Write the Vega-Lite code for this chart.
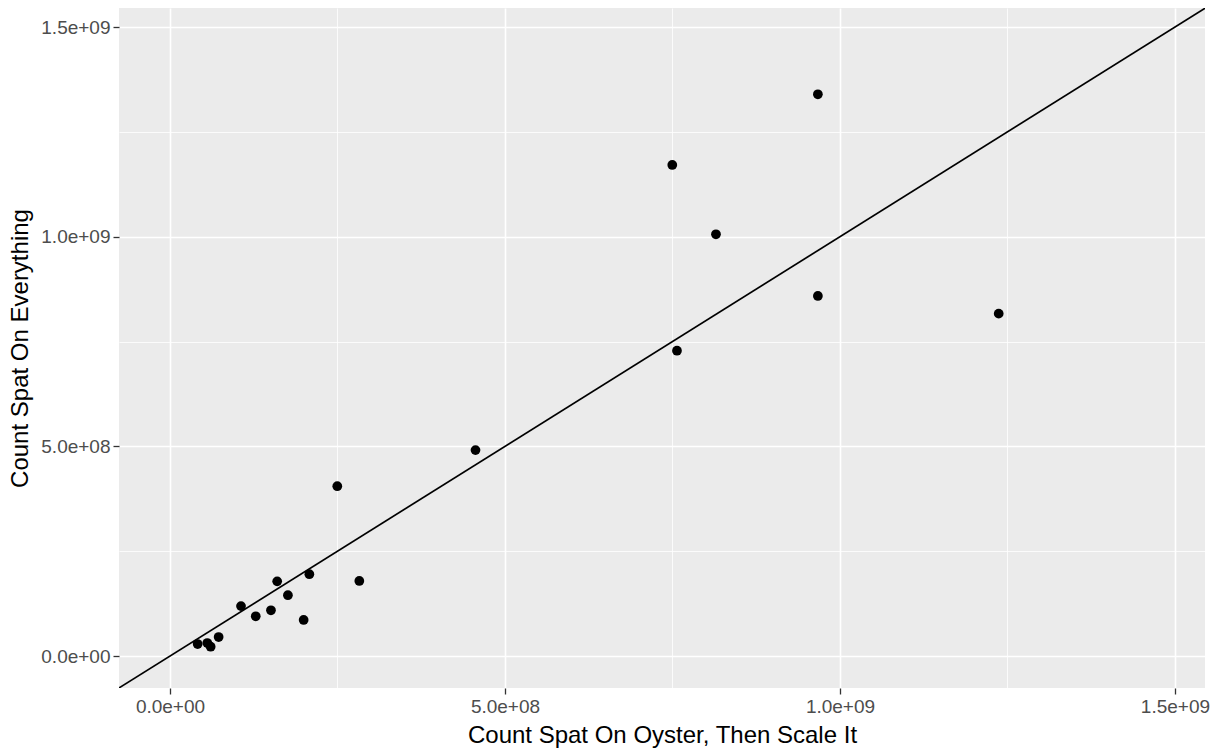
{
  "$schema": "https://vega.github.io/schema/vega-lite/v6.json",
  "autosize": "none",
  "width": 1086,
  "height": 680,
  "padding": {"left": 119, "top": 8, "right": 10, "bottom": 62},
  "background": "white",
  "config": {
    "view": {"fill": "#EBEBEB", "stroke": null},
    "font": "Liberation Sans",
    "axis": {
      "domain": false,
      "gridColor": "white",
      "gridWidth": {"condition": {"test": "datum.value % 500000000 === 0", "value": 1.6}, "value": 0.8},
      "tickColor": "#333333",
      "tickOpacity": {"condition": {"test": "datum.value % 500000000 === 0", "value": 1}, "value": 0},
      "tickSize": 6,
      "tickWidth": 1.3,
      "labelColor": "#4D4D4D",
      "labelFontSize": 19,
      "labelFont": "Liberation Sans",
      "titleFont": "Liberation Sans",
      "titleFontSize": 24,
      "titleFontWeight": "normal",
      "titleColor": "black",
      "labelExpr": "datum.value % 500000000 === 0 ? replace(format(datum.value, '.1e'), 'e+', 'e+0') : ''"
    }
  },
  "datasets": {
    "pts": [
      {"oyster": 41300000, "everything": 28600000},
      {"oyster": 55700000, "everything": 31000000},
      {"oyster": 60700000, "everything": 22200000},
      {"oyster": 72600000, "everything": 45300000},
      {"oyster": 106000000, "everything": 119000000},
      {"oyster": 128000000, "everything": 94700000},
      {"oyster": 150700000, "everything": 109000000},
      {"oyster": 160000000, "everything": 178000000},
      {"oyster": 176000000, "everything": 145000000},
      {"oyster": 199500000, "everything": 85900000},
      {"oyster": 208000000, "everything": 195000000},
      {"oyster": 249700000, "everything": 405000000},
      {"oyster": 282600000, "everything": 179000000},
      {"oyster": 456000000, "everything": 491000000},
      {"oyster": 749700000, "everything": 1171000000},
      {"oyster": 756700000, "everything": 728000000},
      {"oyster": 814900000, "everything": 1005700000},
      {"oyster": 967000000, "everything": 1339600000},
      {"oyster": 967000000, "everything": 858600000},
      {"oyster": 1236900000, "everything": 816400000}
    ],
    "ref": [
      {"oyster": -200000000, "everything": -200000000},
      {"oyster": 1700000000, "everything": 1700000000}
    ]
  },
  "layer": [
    {
      "data": {"name": "ref"},
      "mark": {"type": "line", "color": "black", "strokeWidth": 1.7, "clip": true},
      "encoding": {
        "x": {"field": "oyster", "type": "quantitative"},
        "y": {"field": "everything", "type": "quantitative"}
      }
    },
    {
      "data": {"name": "pts"},
      "mark": {"type": "circle", "color": "black", "opacity": 1, "size": 95},
      "encoding": {
        "x": {
          "field": "oyster",
          "type": "quantitative",
          "title": "Count Spat On Oyster, Then Scale It",
          "scale": {"domain": [-76100000, 1544800000], "nice": false, "zero": false},
          "axis": {
            "values": [0, 250000000, 500000000, 750000000, 1000000000, 1250000000, 1500000000],
            "labelPadding": 3,
            "titlePadding": 7
          }
        },
        "y": {
          "field": "everything",
          "type": "quantitative",
          "title": "Count Spat On Everything",
          "scale": {"domain": [-76300000, 1545400000], "nice": false, "zero": false},
          "axis": {
            "values": [0, 250000000, 500000000, 750000000, 1000000000, 1250000000, 1500000000],
            "labelPadding": 3,
            "titlePadding": 8
          }
        }
      }
    }
  ]
}
